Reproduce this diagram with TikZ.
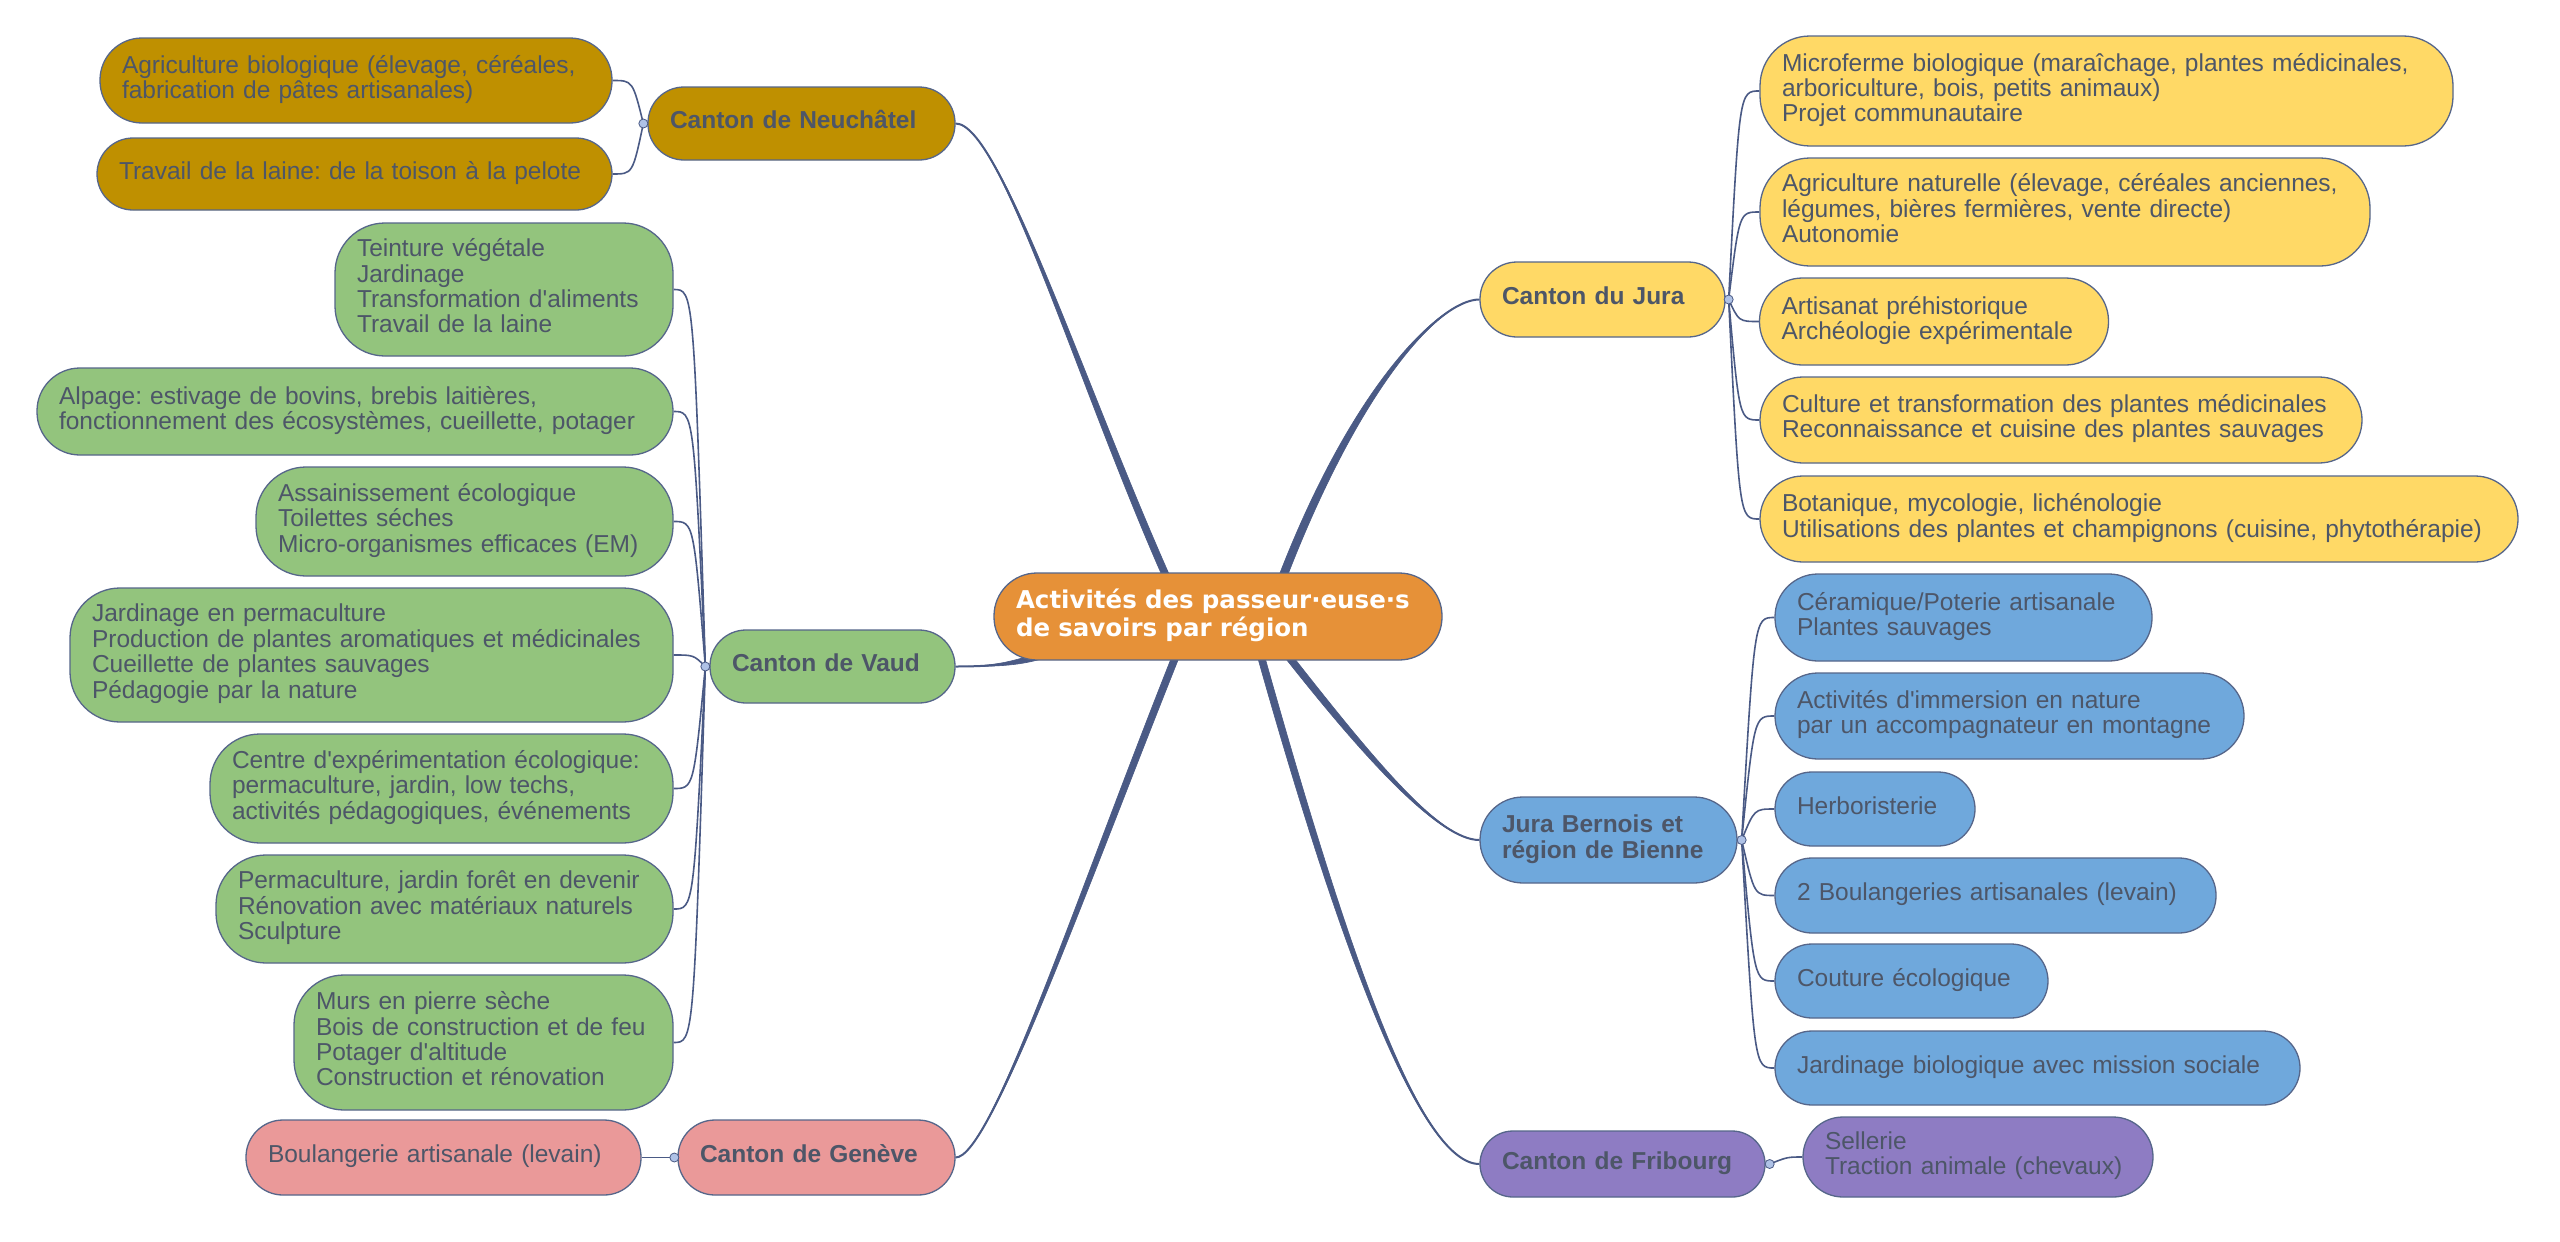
\documentclass[tikz,border=0pt]{standalone}
\usepackage{fontspec}
\setmainfont{Liberation Sans}
\newfontfamily\titlefont{DejaVu Sans}
\usetikzlibrary{calc}
\frenchspacing
\definecolor{cOrange}{HTML}{E69138}
\definecolor{cNeu}{HTML}{BF9000}
\definecolor{cVaud}{HTML}{93C47D}
\definecolor{cGen}{HTML}{EA9999}
\definecolor{cJura}{HTML}{FFD966}
\definecolor{cBern}{HTML}{6FA8DC}
\definecolor{cFrib}{HTML}{8E7CC3}
\definecolor{cBorder}{HTML}{56668A}
\definecolor{cConn}{HTML}{4A5A85}
\definecolor{cText}{HTML}{4D5668}
\definecolor{cDot}{HTML}{AFC2E6}
\pgfdeclarelayer{bg}
\pgfsetlayers{bg,main}
\newcommand\ml[1]{\begin{tabular}{@{}l@{}}#1\end{tabular}}
\newcommand\ap{\textquotesingle}
% #1 thin end, #2 control 1, #3 control 2, #4 thick end, #5 half width at thick end
\newcommand\mmtaper[5]{%
  \fill[mmfill] (#1) .. controls (#2) and ($(#3)!#5!-90:(#4)$) .. ($(#4)!#5!90:(#3)$) -- ($(#4)!#5!-90:(#3)$) .. controls ($(#3)!#5!90:(#4)$) and (#2) .. (#1) -- cycle;
  \draw[mmline] (#1) .. controls (#2) and (#3) .. (#4);
}
\tikzset{
  mmbox/.style={draw=cBorder, line width=1.3pt, text=cText, align=left,
    inner xsep=22pt, inner ysep=0pt, font=\fontsize{24.5pt}{25pt}\selectfont},
  mmhead/.style={mmbox, font=\fontsize{24.5pt}{26pt}\selectfont\bfseries},
  mmfill/.style={draw=cConn, fill=cConn, line width=0.6pt},
  mmline/.style={draw=cConn, line width=2pt},
  mmsub/.style={draw=cConn, line width=1.6pt},
  mmdot/.style={circle, draw=cConn, fill=cDot, line width=0.8pt, inner sep=0pt, minimum size=9pt}
}
\begin{document}
\begin{tikzpicture}[x=1pt,y=-1pt]
\useasboundingbox (0,0) rectangle (2560,1242);

% central node
\path node[mmbox, fill=cOrange, text=white, text width=404pt, minimum height=87pt, rounded corners=43pt,
  font=\fontsize{24.5pt}{25.5pt}\titlefont\bfseries] (ctr) at (1218,616.5)
  {\ml{Activités des passeur·euse·s\\de savoirs par région}};

% level-1 nodes
\path node[mmhead, fill=cNeu, text width=263pt, minimum height=73pt, rounded corners=36pt] (neu) at (801.5,123.5) {\ml{Canton de Neuchâtel}};
\path node[mmhead, fill=cVaud, text width=201pt, minimum height=73pt, rounded corners=36pt] (vaud) at (832.5,666.5) {\ml{Canton de Vaud}};
\path node[mmhead, fill=cGen, text width=233pt, minimum height=75pt, rounded corners=37pt] (gen) at (816.5,1157.5) {\ml{Canton de Genève}};
\path node[mmhead, fill=cJura, text width=201pt, minimum height=75pt, rounded corners=37pt] (jura) at (1602.5,299.5) {\ml{Canton du Jura}};
\path node[mmhead, fill=cBern, text width=213pt, minimum height=86pt, rounded corners=43pt] (bern) at (1608.5,840) {\ml{Jura Bernois et\\région de Bienne}};
\path node[mmhead, fill=cFrib, text width=241pt, minimum height=66pt, rounded corners=33pt] (frib) at (1622.5,1164) {\ml{Canton de Fribourg}};

% Neuchatel children
\path node[mmbox, fill=cNeu, text width=468pt, minimum height=85pt, rounded corners=42pt] (n1) at (356,80.5) {\ml{Agriculture biologique (élevage, céréales,\\fabrication de pâtes artisanales)}};
\path node[mmbox, fill=cNeu, text width=471pt, minimum height=72pt, rounded corners=36pt] (n2) at (354.5,174) {\ml{Travail de la laine: de la toison à la pelote}};

% Vaud children
\path node[mmbox, fill=cVaud, text width=294pt, minimum height=133pt, rounded corners=50pt] (v1) at (504,289.5) {\ml{Teinture végétale\\Jardinage\\Transformation d\ap aliments\\Travail de la laine}};
\path node[mmbox, fill=cVaud, text width=592pt, minimum height=87pt, rounded corners=43pt] (v2) at (355,411.5) {\ml{Alpage: estivage de bovins, brebis laitières,\\fonctionnement des écosystèmes, cueillette, potager}};
\path node[mmbox, fill=cVaud, text width=373pt, minimum height=109pt, rounded corners=50pt] (v3) at (464.5,521.5) {\ml{Assainissement écologique\\Toilettes séches\\Micro-organismes efficaces (EM)}};
\path node[mmbox, fill=cVaud, text width=559pt, minimum height=134pt, rounded corners=50pt] (v4) at (371.5,655) {\ml{Jardinage en permaculture\\Production de plantes aromatiques et médicinales\\Cueillette de plantes sauvages\\Pédagogie par la nature}};
\path node[mmbox, fill=cVaud, text width=419pt, minimum height=109pt, rounded corners=50pt] (v5) at (441.5,788.5) {\ml{Centre d\ap expérimentation écologique:\\permaculture, jardin, low techs,\\activités pédagogiques, événements}};
\path node[mmbox, fill=cVaud, text width=413pt, minimum height=108pt, rounded corners=50pt] (v6) at (444.5,909) {\ml{Permaculture, jardin forêt en devenir\\Rénovation avec matériaux naturels\\Sculpture}};
\path node[mmbox, fill=cVaud, text width=335pt, minimum height=135pt, rounded corners=50pt] (v7) at (483.5,1042.5) {\ml{Murs en pierre sèche\\Bois de construction et de feu\\Potager d\ap altitude\\Construction et rénovation}};

% Geneve child
\path node[mmbox, fill=cGen, text width=351pt, minimum height=75pt, rounded corners=37pt] (g1) at (443.5,1157.5) {\ml{Boulangerie artisanale (levain)}};

% Jura children
\path node[mmbox, fill=cJura, text width=649pt, minimum height=110pt, rounded corners=50pt] (j1) at (2106.5,91) {\ml{Microferme biologique (maraîchage, plantes médicinales,\\arboriculture, bois, petits animaux)\\Projet communautaire}};
\path node[mmbox, fill=cJura, text width=566pt, minimum height=108pt, rounded corners=50pt] (j2) at (2065,212) {\ml{Agriculture naturelle (élevage, céréales anciennes,\\légumes, bières fermières, vente directe)\\Autonomie}};
\path node[mmbox, fill=cJura, text width=305pt, minimum height=87pt, rounded corners=43pt] (j3) at (1934,321.5) {\ml{Artisanat préhistorique\\Archéologie expérimentale}};
\path node[mmbox, fill=cJura, text width=558pt, minimum height=86pt, rounded corners=43pt] (j4) at (2061,420) {\ml{Culture et transformation des plantes médicinales\\Reconnaissance et cuisine des plantes sauvages}};
\path node[mmbox, fill=cJura, text width=714pt, minimum height=86pt, rounded corners=43pt] (j5) at (2139,519) {\ml{Botanique, mycologie, lichénologie\\Utilisations des plantes et champignons (cuisine, phytothérapie)}};

% Bern children
\path node[mmbox, fill=cBern, text width=333pt, minimum height=87pt, rounded corners=43pt] (b1) at (1963.5,617.5) {\ml{Céramique/Poterie artisanale\\Plantes sauvages}};
\path node[mmbox, fill=cBern, text width=425pt, minimum height=86pt, rounded corners=43pt] (b2) at (2009.5,716) {\ml{Activités d\ap immersion en nature\\par un accompagnateur en montagne}};
\path node[mmbox, fill=cBern, text width=156pt, minimum height=74pt, rounded corners=37pt] (b3) at (1875,809) {\ml{Herboristerie}};
\path node[mmbox, fill=cBern, text width=397pt, minimum height=75pt, rounded corners=37pt] (b4) at (1995.5,895.5) {\ml{2 Boulangeries artisanales (levain)}};
\path node[mmbox, fill=cBern, text width=229pt, minimum height=74pt, rounded corners=37pt] (b5) at (1911.5,981) {\ml{Couture écologique}};
\path node[mmbox, fill=cBern, text width=481pt, minimum height=74pt, rounded corners=37pt] (b6) at (2037.5,1068) {\ml{Jardinage biologique avec mission sociale}};

% Fribourg child
\path node[mmbox, fill=cFrib, text width=306pt, minimum height=80pt, rounded corners=40pt] (f1) at (1978,1157) {\ml{Sellerie\\Traction animale (chevaux)}};

% junction points
\coordinate (jn) at ($(neu.west)+(-4,0)$);
\coordinate (jv) at ($(vaud.west)+(-4,0)$);
\coordinate (jg) at ($(gen.west)+(-3,0)$);
\coordinate (jj) at ($(jura.east)+(3,0)$);
\coordinate (jb) at ($(bern.east)+(4,0)$);
\coordinate (jf) at ($(frib.east)+(4,0)$);

% control points for the main (tapered) branches
\coordinate (tNa) at ($(neu.east)+(45,0)$);
\coordinate (tNb) at ($(ctr.north)+(-136,-183)$);
\coordinate (tNc) at ($(ctr.north)+(-46,17)$);
\coordinate (tJa) at ($(jura.west)+(-40,0)$);
\coordinate (tJb) at ($(ctr.north)+(135,-183)$);
\coordinate (tJc) at ($(ctr.north)+(60,17)$);
\coordinate (tVa) at ($(vaud.east)+(45,0)$);
\coordinate (tVb) at ($(ctr.south)+(-198,2)$);
\coordinate (tVc) at ($(ctr.south)+(-168,-8)$);
\coordinate (tGa) at ($(gen.east)+(35,0)$);
\coordinate (tGb) at ($(ctr.south)+(-138,235)$);
\coordinate (tGc) at ($(ctr.south)+(-38,-15)$);
\coordinate (tBa) at ($(bern.west)+(-40,0)$);
\coordinate (tBb) at ($(ctr.south)+(152,100)$);
\coordinate (tBc) at ($(ctr.south)+(62,-15)$);
\coordinate (tFa) at ($(frib.west)+(-60,0)$);
\coordinate (tFb) at ($(ctr.south)+(124,285)$);
\coordinate (tFc) at ($(ctr.south)+(40,-15)$);

\begin{pgfonlayer}{bg}
  \fill[white] (0,0) rectangle (2560,1242);
  \mmtaper{neu.east}{tNa}{tNb}{tNc}{3.5pt}
  \mmtaper{jura.west}{tJa}{tJb}{tJc}{4pt}
  \mmtaper{vaud.east}{tVa}{tVb}{tVc}{3.5pt}
  \mmtaper{gen.east}{tGa}{tGb}{tGc}{3.5pt}
  \mmtaper{bern.west}{tBa}{tBb}{tBc}{3.5pt}
  \mmtaper{frib.west}{tFa}{tFb}{tFc}{3.5pt}

  % sub-branches
  \foreach \c in {n1,n2}
    \draw[mmsub] (jn) .. controls ($(\c.east)+(20,0)$) .. (\c.east);
  \foreach \c in {v1,v2,v3,v4,v5,v6,v7}
    \draw[mmsub] (jv) .. controls ($(\c.east)+(20,0)$) .. (\c.east);
  \draw[mmsub] (jg) -- (g1.east);
  \foreach \c in {j1,j2,j3,j4,j5}
    \draw[mmsub] (jj) .. controls ($(\c.west)+(-20,0)$) .. (\c.west);
  \foreach \c in {b1,b2,b3,b4,b5,b6}
    \draw[mmsub] (jb) .. controls ($(\c.west)+(-20,0)$) .. (\c.west);
  \draw[mmsub] (jf) .. controls ($(f1.west)+(-15,0)$) .. (f1.west);
\end{pgfonlayer}

% junction dots
\foreach \j in {jn,jv,jg,jj,jb,jf}
  \node[mmdot] at (\j) {};
\end{tikzpicture}
\end{document}
